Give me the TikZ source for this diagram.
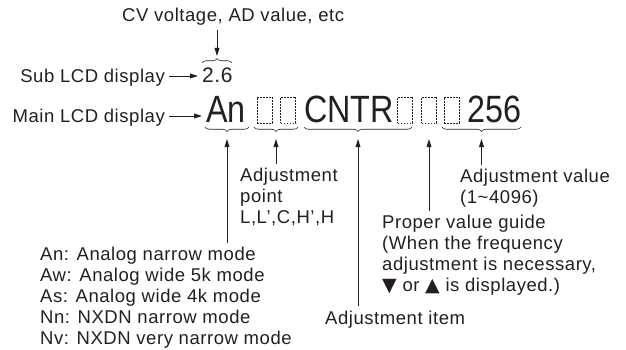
\documentclass[tikz,border=0pt]{standalone}
\usepackage{fontspec}
\setmainfont{Liberation Sans}
\newfontfamily\lblfont{Liberation Sans}[LetterSpace=3]
\newfontfamily\lcdfont{Liberation Sans}[FakeStretch=0.85]
\newfontfamily\symfont{DejaVu Sans}
\usetikzlibrary{arrows.meta, calc, decorations.pathreplacing, positioning}
\definecolor{ink}{HTML}{231F20}
\newcommand{\tri}[1]{{\symfont\fontsize{19}{21}\selectfont #1}}
\tikzset{
  lbl/.style={font=\lblfont\fontsize{18.5}{21}\selectfont, text=ink, inner sep=0pt, align=left},
  lcd/.style={font=\lcdfont\fontsize{38}{38}\selectfont, text=ink, inner sep=0pt, anchor=base west},
  seg/.style={draw=ink, dash pattern=on 1.6pt off 1.4pt, line width=0.6pt, minimum width=15pt, minimum height=26pt, inner sep=0pt},
  arr/.style={draw=ink, line width=0.9pt, shorten <=4pt, -{Triangle[length=8pt,width=4.8pt]}},
  brc/.style={draw=ink, line width=0.6pt, decorate, decoration={brace, amplitude=4.5pt}},
  ubrc/.style={brc, decoration={mirror}},
}

\begin{document}
\begin{tikzpicture}[x=1pt, y=-1pt]
    \useasboundingbox (0,0) rectangle (626,350);

    % Sub LCD display
    \node[lbl, anchor=base west] (cv) at (122,22) {CV voltage, AD value, etc};
    \node[lbl, anchor=base east] (sub) at (165,83) {Sub LCD display};
    \node[lbl, anchor=base west, font=\lblfont\fontsize{21}{21}\selectfont] (subval) at (202,83) {2.6};
    \draw[brc] (202,63) -- (232,63);
    \coordinate (t0) at (217,56);

    % Main LCD display
    \node[lbl, anchor=base east] (main) at (165,123) {Main LCD display};
    \node[lcd] (an) at (206,123) {An};
    \node[lcd] (cntr) at (304,123) {CNTR};
    \node[lcd] (val) at (467,123) {256};
    \foreach \i/\x in {1/264.5, 2/288, 3/405, 4/429, 5/451.5}
        \node[seg] (s\i) at (\x,110) {};

    % Braces under the display
    \draw[ubrc] (205,127) -- (249,127);
    \draw[ubrc] (254,127) -- (298,127);
    \draw[ubrc] (304,127) -- (412,127);
    \draw[ubrc] (442,127) -- (521,127);
    \foreach \n/\x in {tA/227, tB/276, tC/358, tD/429, tE/481.5}
        \coordinate (\n) at (\x,139);

    % Labels
    \node[lbl, anchor=north west] (legend) at (40,246.5) {An: Analog narrow mode\\Aw: Analog wide 5k mode\\As: Analog wide 4k mode\\Nn: NXDN narrow mode\\Nv: NXDN very narrow mode};
    \node[lbl, anchor=north west] (adjpt) at (240,167.5) {Adjustment\\point\\L,L’,C,H’,H};
    \node[lbl, anchor=base west] (itemlbl) at (325,324) {Adjustment item};
    \node[lbl, anchor=north west] (guide) at (382,214.5) {Proper value guide\\(When the frequency\\adjustment is necessary,\\\tri{▼} or \tri{▲} is displayed.)};
    \node[lbl, anchor=north west] (adjval) at (460,168.5) {Adjustment value\\(1\textasciitilde 4096)};

    % Arrows
    \draw[arr] (cv.south -| t0) -- (t0);
    \draw[arr, shorten >=4pt] ($(sub.base east)+(0,-7)$) -- ($(subval.base west)+(0,-7)$);
    \draw[arr, shorten >=4pt] ($(main.base east)+(0,-7)$) -- ($(an.base west)+(0,-7)$);
    \draw[arr] (legend.north -| tA) -- (tA);
    \draw[arr] (adjpt.north -| tB) -- (tB);
    \draw[arr] (itemlbl.north -| tC) -- (tC);
    \draw[arr] (guide.north -| tD) -- (tD);
    \draw[arr] (adjval.north -| tE) -- (tE);
\end{tikzpicture}
\end{document}
